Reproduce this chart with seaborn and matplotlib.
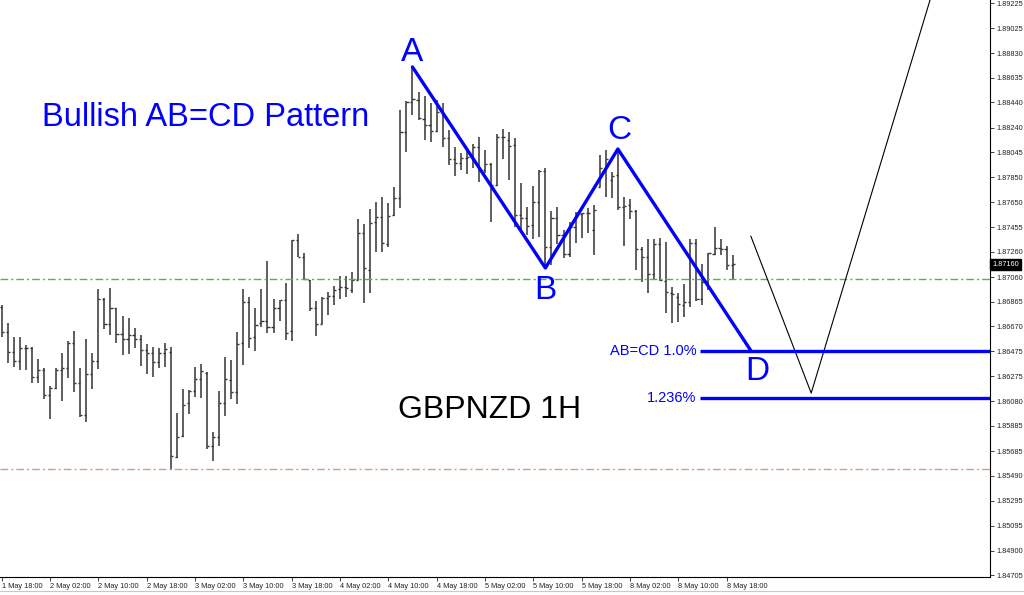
import matplotlib
matplotlib.use("Agg")
import matplotlib.pyplot as plt
import matplotlib.transforms as mtransforms
import numpy as np
import seaborn as sns

# ── data: GBPNZD 1H bars, 1 May 18:00 .. 8 May 21:00 ──────────
opens = [
    1.86824, 1.86626, 1.86468, 1.86397, 1.86500, 1.86500, 1.86271, 1.86326, 1.86129, 1.86184,
    1.86326, 1.86342, 1.86539, 1.86223, 1.85971, 1.86294, 1.86397, 1.86887, 1.86689, 1.86816,
    1.86610, 1.86571, 1.86603, 1.86571, 1.86484, 1.86460, 1.86389, 1.86460, 1.86468, 1.85639,
    1.85805, 1.86066, 1.86160, 1.86255, 1.86302, 1.85726, 1.85797, 1.86066, 1.86247, 1.86152,
    1.86539, 1.86863, 1.86587, 1.86697, 1.86713, 1.86666, 1.86816, 1.86879, 1.86634, 1.87353,
    1.87219, 1.87037, 1.86816, 1.86689, 1.86895, 1.86911, 1.86966, 1.86982, 1.86958, 1.87037,
    1.87408, 1.87116, 1.87495, 1.87534, 1.87321, 1.87551, 1.87685, 1.88206, 1.88443, 1.88459,
    1.88309, 1.88262, 1.88214, 1.88364, 1.88159, 1.87993, 1.87961, 1.88001, 1.88009, 1.88088,
    1.87906, 1.87953, 1.87788, 1.88167, 1.88143, 1.88103, 1.87551, 1.87527, 1.87471, 1.87653,
    1.87898, 1.87298, 1.87527, 1.87392, 1.87242, 1.87456, 1.87558, 1.87566, 1.87432, 1.87772,
    1.87922, 1.87827, 1.87867, 1.87614, 1.87629, 1.87582, 1.87282, 1.87219, 1.87085, 1.87321,
    1.87029, 1.86934, 1.86903, 1.86840, 1.86863, 1.87329, 1.86887, 1.87021, 1.87242, 1.87290,
    1.87282, 1.87156,
]
highs = [
    1.86840, 1.86697, 1.86587, 1.86587, 1.86524, 1.86508, 1.86413, 1.86342, 1.86200, 1.86342,
    1.86460, 1.86555, 1.86634, 1.86342, 1.86571, 1.86460, 1.86966, 1.86895, 1.86974, 1.86816,
    1.86753, 1.86737, 1.86658, 1.86603, 1.86531, 1.86508, 1.86500, 1.86539, 1.86508, 1.85986,
    1.86176, 1.86168, 1.86350, 1.86373, 1.86310, 1.85836, 1.86160, 1.86429, 1.86405, 1.86626,
    1.86966, 1.86903, 1.86816, 1.86966, 1.87187, 1.86887, 1.86879, 1.87012, 1.87353, 1.87400,
    1.87250, 1.87037, 1.86871, 1.86903, 1.86942, 1.86990, 1.87069, 1.87069, 1.87101, 1.87519,
    1.87479, 1.87598, 1.87653, 1.87693, 1.87645, 1.87772, 1.88380, 1.88451, 1.88720, 1.88522,
    1.88491, 1.88435, 1.88459, 1.88435, 1.88222, 1.88088, 1.88040, 1.88080, 1.88111, 1.88167,
    1.88064, 1.87961, 1.88190, 1.88230, 1.88206, 1.88159, 1.87803, 1.87614, 1.87780, 1.87906,
    1.87922, 1.87582, 1.87614, 1.87432, 1.87495, 1.87574, 1.87566, 1.87606, 1.87629, 1.88025,
    1.88064, 1.87890, 1.88072, 1.87693, 1.87677, 1.87590, 1.87298, 1.87361, 1.87361, 1.87369,
    1.87337, 1.86982, 1.86934, 1.87006, 1.87361, 1.87361, 1.87163, 1.87250, 1.87456, 1.87361,
    1.87306, 1.87235,
]
lows = [
    1.86587, 1.86381, 1.86350, 1.86326, 1.86326, 1.86223, 1.86223, 1.86097, 1.85939, 1.86176,
    1.86081, 1.86263, 1.86152, 1.85955, 1.85915, 1.86176, 1.86334, 1.86650, 1.86603, 1.86539,
    1.86445, 1.86453, 1.86500, 1.86358, 1.86294, 1.86271, 1.86342, 1.86350, 1.85536, 1.85631,
    1.85797, 1.85978, 1.86113, 1.86105, 1.85702, 1.85607, 1.85726, 1.85963, 1.86097, 1.86058,
    1.86366, 1.86500, 1.86476, 1.86666, 1.86618, 1.86618, 1.86713, 1.86563, 1.86555, 1.87219,
    1.87037, 1.86792, 1.86595, 1.86689, 1.86760, 1.86840, 1.86887, 1.86903, 1.86934, 1.87037,
    1.86855, 1.86934, 1.87258, 1.87258, 1.87298, 1.87543, 1.87606, 1.88048, 1.88340, 1.88301,
    1.88143, 1.88127, 1.88206, 1.88087, 1.87946, 1.87859, 1.87906, 1.87875, 1.87922, 1.87811,
    1.87882, 1.87495, 1.87780, 1.87993, 1.87827, 1.87456, 1.87432, 1.87392, 1.87361, 1.87377,
    1.87132, 1.87156, 1.87321, 1.87211, 1.87219, 1.87329, 1.87369, 1.87408, 1.87235, 1.87772,
    1.87693, 1.87685, 1.87590, 1.87306, 1.87519, 1.87116, 1.87021, 1.86934, 1.87037, 1.87029,
    1.86776, 1.86697, 1.86705, 1.86745, 1.86824, 1.86871, 1.86840, 1.86958, 1.87235, 1.87235,
    1.87116, 1.87037,
]
closes = [
    1.86626, 1.86468, 1.86397, 1.86500, 1.86500, 1.86271, 1.86326, 1.86129, 1.86184, 1.86326,
    1.86342, 1.86539, 1.86223, 1.85971, 1.86294, 1.86397, 1.86887, 1.86689, 1.86816, 1.86610,
    1.86571, 1.86603, 1.86571, 1.86484, 1.86460, 1.86389, 1.86460, 1.86492, 1.85647, 1.85797,
    1.86050, 1.86160, 1.86255, 1.86318, 1.85726, 1.85797, 1.86066, 1.86255, 1.86152, 1.86531,
    1.86863, 1.86579, 1.86681, 1.86713, 1.86666, 1.86816, 1.86879, 1.86618, 1.87353, 1.87219,
    1.87045, 1.86816, 1.86689, 1.86895, 1.86911, 1.86958, 1.86982, 1.86974, 1.87037, 1.87408,
    1.87132, 1.87487, 1.87534, 1.87329, 1.87543, 1.87685, 1.88206, 1.88443, 1.88467, 1.88317,
    1.88262, 1.88214, 1.88364, 1.88159, 1.87993, 1.87961, 1.88001, 1.88009, 1.88088, 1.87906,
    1.87953, 1.87788, 1.88167, 1.88167, 1.88096, 1.87551, 1.87527, 1.87463, 1.87653, 1.87898,
    1.87298, 1.87527, 1.87392, 1.87242, 1.87456, 1.87558, 1.87566, 1.87566, 1.87590, 1.87922,
    1.87993, 1.87859, 1.87614, 1.87622, 1.87582, 1.87282, 1.87219, 1.87085, 1.87321, 1.87037,
    1.86942, 1.86926, 1.86847, 1.86863, 1.87329, 1.86887, 1.87021, 1.87250, 1.87290, 1.87282,
    1.87156, 1.87160,
]

time_labels = ["1 May 18:00", "2 May 02:00", "2 May 10:00", "2 May 18:00", "3 May 02:00",
               "3 May 10:00", "3 May 18:00", "4 May 02:00", "4 May 10:00", "4 May 18:00",
               "5 May 02:00", "5 May 10:00", "5 May 18:00", "8 May 02:00", "8 May 10:00",
               "8 May 18:00"]
label_every = 8

price_ticks = [1.89225, 1.89025, 1.88830, 1.88635, 1.88440, 1.88240, 1.88045, 1.87850,
               1.87650, 1.87455, 1.87260, 1.87060, 1.86865, 1.86670, 1.86475, 1.86275,
               1.86080, 1.85885, 1.85685, 1.85490, 1.85295, 1.85095, 1.84900, 1.84705]
last_price = 1.87160

# AB=CD pattern points (bar index, price)
pattern_names = ["A", "B", "C", "D"]
pattern_bar = [68, 90, 102, 124]
pattern_price = [1.88720, 1.87132, 1.88072, 1.86480]

# projected path after D
proj_bar = [124, 134, 154]
proj_price = [1.87385, 1.86144, 1.89300]

level_names = ["AB=CD 1.0%", "1.236%"]
level_price = [1.86480, 1.86105]
level_start = 115.6

green_level = 1.87043
orange_level = 1.85544

# ── figure ────────────────────────────────────────────────────
sns.set_theme(style="white")
plt.rcParams["font.family"] = ["Liberation Sans", "DejaVu Sans"]

fig = plt.figure(figsize=(10.24, 5.95), dpi=100)
ax = fig.add_axes([0, 18 / 595, 990 / 1024, 577 / 595])

bars = np.arange(len(closes))
bar_col = "#333333"
ax.vlines(bars, lows, highs, color=bar_col, lw=1.1)
ax.hlines(opens, bars - 0.35, bars, color=bar_col, lw=1.0)
ax.hlines(closes, bars, bars + 0.35, color=bar_col, lw=1.0)

# support / resistance dash-dot lines
ax.axhline(green_level, color="#4cb84c", lw=1.0, dashes=(5.5, 2.2, 1.5, 2.2))
ax.axhline(orange_level, color="#d99a84", lw=1.0, dashes=(5.5, 2.2, 1.5, 2.2))

xmax = 163.6
blue = "#0000ff"

# pattern and projection
sns.lineplot(x=pattern_bar, y=pattern_price, sort=False, color=blue, lw=2.4, ax=ax)
sns.lineplot(x=proj_bar, y=proj_price, sort=False, color="black", lw=0.8, ax=ax)

letter_offsets = [(0, 10.5), (0, -16), (1, 13), (5, -15)]
for name, bx, py, off in zip(pattern_names, pattern_bar, pattern_price, letter_offsets):
    ax.annotate(name, (bx, py), xytext=off, textcoords="offset points",
                ha="center", va="center", fontsize=24, color=blue)

for name, lv in zip(level_names, level_price):
    ax.hlines(lv, level_start, xmax, color=blue, lw=2.4)
    ax.annotate(name, (level_start, lv), xytext=(-2.5, 0), textcoords="offset points",
                ha="right", va="center", fontsize=10.5, color=blue)

ax.text(42 / 990, 0.7955, "Bullish AB=CD Pattern", transform=ax.transAxes,
        ha="left", va="center", fontsize=23.5, color=blue)
ax.text(0.495, 0.2895, "GBPNZD 1H", transform=ax.transAxes,
        ha="center", va="center", fontsize=23, color="black")

# axes look (MetaTrader style)
ax.set_xlim(-0.28, xmax)
ax.set_ylim(1.84691, 1.89249)
ax.yaxis.tick_right()
ax.set_yticks(price_ticks)
ax.set_yticklabels([f"{p:.5f}" for p in price_ticks])
ax.set_xticks(np.arange(len(time_labels)) * label_every)
ax.set_xticklabels(time_labels, ha="left")
ax.tick_params(axis="y", which="both", right=True, left=False, direction="out",
               length=3, width=0.6, pad=1.5, labelsize=5.3, colors="#222222")
ax.tick_params(axis="x", which="both", bottom=True, direction="out",
               length=3, width=0.6, pad=1.5, labelsize=5.3, colors="#222222")
for side in ["left", "top"]:
    ax.spines[side].set_visible(False)
for side in ["right", "bottom"]:
    ax.spines[side].set_color("black")
    ax.spines[side].set_linewidth(0.8)
ax.set_xlabel("")
ax.set_ylabel("")
ax.grid(False)

# current price marker on the price scale
trans = mtransforms.blended_transform_factory(ax.transAxes, ax.transData)
ax.text(1.002, last_price, f"{last_price:.5f}", transform=trans, ha="left", va="center",
        fontsize=5.3, color="white",
        bbox=dict(boxstyle="square,pad=0.25", fc="black", ec="black"))

fig.add_artist(plt.Line2D([0, 1], [4 / 595, 4 / 595], color="#c8c8c8", lw=0.8))

fig.savefig("out.png", dpi=100, facecolor="white")
